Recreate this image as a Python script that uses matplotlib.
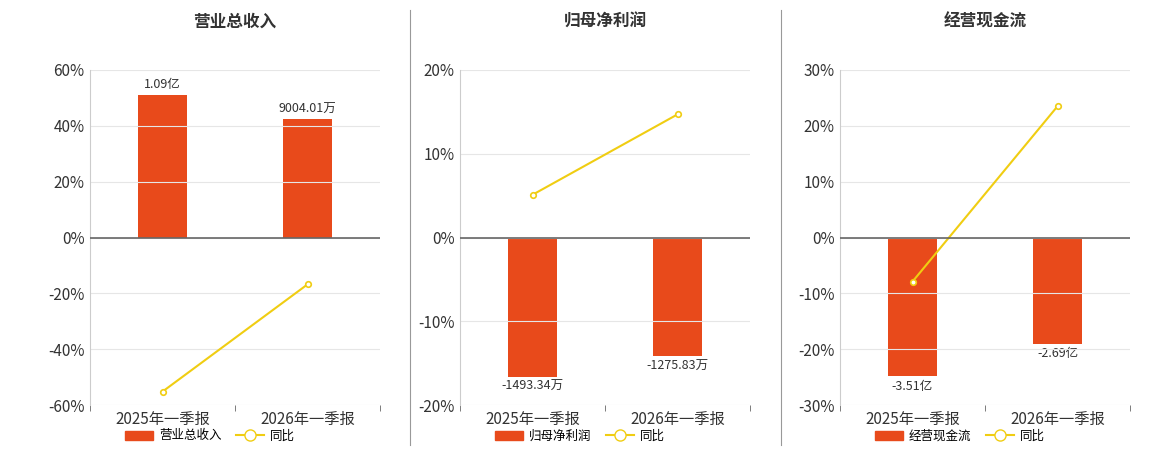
import matplotlib
matplotlib.use("Agg")
import matplotlib.pyplot as plt
from matplotlib.lines import Line2D
from matplotlib.patches import Patch

plt.rcParams['font.family'] = ['Noto Sans CJK SC', 'DejaVu Sans']

categories = ["2025年一季报", "2026年一季报"]
titles = ["营业总收入", "归母净利润", "经营现金流"]
legend_names = ["营业总收入", "归母净利润", "经营现金流"]
bar_values = [[1.09e8, 9004.01e4], [-1493.34e4, -1275.83e4], [-3.51e8, -2.69e8]]
bar_labels = [["1.09亿", "9004.01万"], ["-1493.34万", "-1275.83万"], ["-3.51亿", "-2.69亿"]]
yoy_values = [[-55.2, -16.8], [5.1, 14.7], [-7.9, 23.5]]
yoy_lims = [60, 20, 30]
yoy_ticks = [[-60, -40, -20, 0, 20, 40, 60], [-20, -10, 0, 10, 20], [-30, -20, -10, 0, 10, 20, 30]]
bar_lims = [1.277e8, 1799e4, 4.23e8]

BAR = "#E84A1B"
LINE = "#F0CD12"

fig = plt.figure(figsize=(11.6, 4.5), dpi=100)
lefts = [90, 460, 840]
for i in range(3):
    ax = fig.add_axes([lefts[i] / 1160, 45 / 450, 290 / 1160, 335 / 450])
    ax2 = ax.twinx()
    x = list(range(len(categories)))
    ax2.bar(x, bar_values[i], width=0.34, color=BAR, zorder=2)
    ax2.set_ylim(-bar_lims[i], bar_lims[i])
    ax2.axis('off')
    for xi, v, lab in zip(x, bar_values[i], bar_labels[i]):
        off = 0.02 * bar_lims[i]
        ax2.text(xi, v + off if v > 0 else v - off, lab, ha='center',
                 va='bottom' if v > 0 else 'top', fontsize=9, color='#333333')
    ax.set_zorder(ax2.get_zorder() + 1)
    ax.patch.set_visible(False)
    ax.plot(x, yoy_values[i], color=LINE, lw=1.5, marker='o', ms=4,
            mfc='white', mec=LINE, mew=1.2, zorder=3)
    L = yoy_lims[i]
    ax.set_ylim(-L, L)
    ax.set_xlim(-0.5, 1.5)
    ax.set_yticks(yoy_ticks[i])
    ax.set_yticklabels([f"{t}%" for t in yoy_ticks[i]], fontsize=11, color='#333333')
    ax.set_xticks(x)
    ax.set_xticklabels(categories, fontsize=11, color='#333333')
    ax.set_xticks([-0.5, 0.5, 1.5], minor=True)
    ax.tick_params(axis='x', which='major', length=0, pad=4)
    ax.tick_params(axis='x', which='minor', length=4, color='#666666')
    ax.tick_params(axis='y', length=0, pad=4)
    ax.grid(axis='y', color='#e6e6e6', lw=0.8)
    ax.set_axisbelow(True)
    for s in ['top', 'right', 'bottom']:
        ax.spines[s].set_visible(False)
    ax.spines['left'].set_color('#cccccc')
    ax.axhline(0, color='#666666', lw=1.2, zorder=4)
    fig.text((lefts[i] + 145) / 1160, 1 - 22 / 450, titles[i], ha='center', va='center',
             fontsize=12, fontweight='bold', color='#333333')
    handles = [Patch(color=BAR), Line2D([], [], color=LINE, marker='o', mfc='white', mec=LINE, ms=8, lw=1.5)]
    fig.legend(handles, [legend_names[i], "同比"], loc='center',
               bbox_to_anchor=((lefts[i] + 120) / 1160, 1 - 436 / 450), ncol=2, frameon=False,
               fontsize=9, handlelength=2.2, columnspacing=1.2, handletextpad=0.5)

for xs in [410, 781]:
    fig.add_artist(Line2D([xs / 1160, xs / 1160], [1 - 445 / 450, 1 - 10 / 450], color='#999999', lw=0.8))

fig.savefig("out.png", dpi=100)
